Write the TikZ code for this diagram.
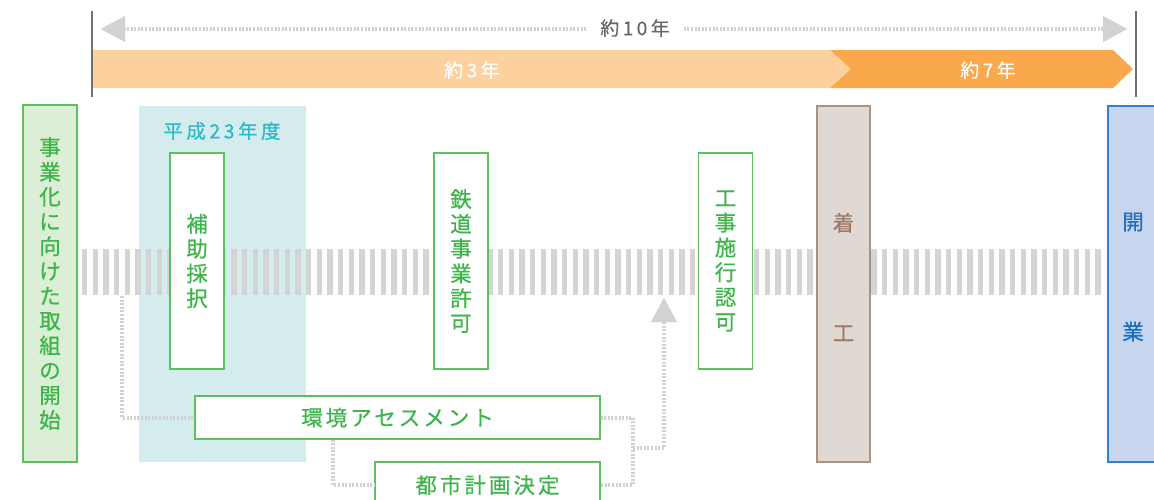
\documentclass[tikz,border=0pt]{standalone}
\usepackage{fontspec}
\setmainfont{Noto Sans CJK JP}
\usetikzlibrary{arrows.meta}
\definecolor{gtext}{HTML}{3DB54A}
\definecolor{gbord}{HTML}{5CC05E}
\definecolor{gfill}{HTML}{DCEED6}
\definecolor{bluebg}{HTML}{D5ECEE}
\definecolor{tealtxt}{HTML}{2BB8C8}
\definecolor{olight}{HTML}{FDD19D}
\definecolor{odark}{HTML}{F9A94B}
\definecolor{stripec}{HTML}{D4D4D4}
\definecolor{dotc}{HTML}{D2D2D2}
\definecolor{darkline}{HTML}{707070}
\definecolor{txtgray}{HTML}{666666}
\definecolor{bfill}{HTML}{E0D8D3}
\definecolor{bbord}{HTML}{A89282}
\definecolor{btext}{HTML}{9A7A65}
\definecolor{kfill}{HTML}{C8D5EE}
\definecolor{kbord}{HTML}{2E82D2}
\definecolor{ktext}{HTML}{1F70C0}
\newcommand\myvfont{\fontsize{21.5pt}{24.8pt}\selectfont\addfontfeature{FakeBold=0.6}}
\newcommand\myhfont{\fontsize{21.5pt}{24.8pt}\selectfont\addfontfeature{LetterSpace=14,FakeBold=0.6}}
\newcommand\mysfont{\fontsize{19pt}{22pt}\selectfont\addfontfeature{LetterSpace=18,FakeBold=0.3}}
\newcommand\mytfont{\fontsize{19.5pt}{22pt}\selectfont\addfontfeature{LetterSpace=18,FakeBold=0.5}}
\newcommand\mybigfont{\fontsize{21.5pt}{110pt}\selectfont\addfontfeature{FakeBold=0.6}}
\tikzset{
  gbox/.style={draw=gbord, fill=white, line width=1.3pt, inner sep=0pt, text=gtext, align=center},
  dotline/.style={draw=dotc, line width=4pt, dash pattern=on 2pt off 1.6pt},
  tiptri/.style={-{Triangle[length=24pt,width=26pt,line width=0.01pt]}},
  plain/.style={inner sep=0pt, align=center},
}
\begin{document}
\begin{tikzpicture}[x=1pt,y=-1pt]
\useasboundingbox (0,0) rectangle (1154,499);
\clip (0,0) rectangle (1154,499);
\fill[white] (0,0) rectangle (1154,499);
% period bars
\fill[olight] (92,50) -- (830,50) -- (851,69) -- (830,88) -- (92,88) -- cycle;
\fill[odark] (830,50) -- (1113,50) -- (1133,69) -- (1113,88) -- (830,88) -- (851,69) -- cycle;
\node[plain, text=white, font=\mysfont] (y3) at (472,70) {約3年};
\node[plain, text=white, font=\mysfont] (y7) at (988,70) {約7年};
% outer marks
\draw[darkline, line width=1.5pt] (92,11) -- (92,97);
\draw[darkline, line width=1.5pt] (1136,11) -- (1136,97);
% 10 years arrow
\node[text=txtgray, font=\mysfont, inner ysep=0pt, inner xsep=14pt] (y10) at (635,28) {約10年};
\coordinate (ltip) at (101,29);
\coordinate (rtip) at (1127,29);
\draw[dotline, tiptri] (y10.west |- ltip) -- (ltip);
\draw[dotline, tiptri] (y10.east |- rtip) -- (rtip);
% fiscal year band
\node[fill=bluebg, minimum width=167pt, minimum height=356pt, inner sep=0pt] (fy) at (222.5,284) {};
\node[plain, text=tealtxt, font=\mytfont] (fylab) at (222,131) {平成23年度};
% timeline stripes
\foreach \i in {0,...,95} \fill[stripec] (82+\i*10.667,249) rectangle ++(5.3,46);
% milestone boxes
\node[gbox, fill=gfill, minimum width=54pt, minimum height=357pt, font=\myvfont] (start) at (50,283.5) {事\\業\\化\\に\\向\\け\\た\\取\\組\\の\\開\\始};
\node[gbox, minimum width=54pt, minimum height=216pt, font=\myvfont] (hojo) at (197,261) {補\\助\\採\\択};
\node[gbox, minimum width=54pt, minimum height=216pt, font=\myvfont] (tetsu) at (461,261) {鉄\\道\\事\\業\\許\\可};
\node[gbox, minimum width=54pt, minimum height=216pt, font=\myvfont] (koji) at (725.5,261) {工\\事\\施\\行\\認\\可};
\node[draw=bbord, fill=bfill, line width=1.3pt, minimum width=53pt, minimum height=356pt, inner sep=0pt] (chaku) at (843.5,284) {};
\node[plain, text=btext, font=\mybigfont] (chakut) at (843.5,277) {着\\工};
\node[draw=kbord, fill=kfill, line width=1.3pt, minimum width=54pt, minimum height=356pt, inner sep=0pt] (kaigyo) at (1135,284) {};
\node[plain, text=ktext, font=\mybigfont] (kaigyot) at (1133,277) {開\\業};
\node[gbox, minimum width=405pt, minimum height=43pt, font=\myhfont] (env) at (397.5,417.5) {環境アセスメント};
\node[gbox, minimum width=225pt, minimum height=46pt, font=\myhfont] (city) at (487.5,485) {都市計画決定};
% connectors
\coordinate (s1) at (122,296);
\draw[dotline] (s1) |- (env.west);
\coordinate (c2) at (333,0);
\draw[dotline] (env.south -| c2) |- (city.west);
\coordinate (br) at (633,0);
\draw[dotline] (env.east) -- (env.east -| br) -- (city.east -| br) -- (city.east);
\coordinate (mid) at (633,448);
\coordinate (uptip) at (664,298);
\draw[dotline, tiptri] (mid) -| (uptip);
\end{tikzpicture}
\end{document}
